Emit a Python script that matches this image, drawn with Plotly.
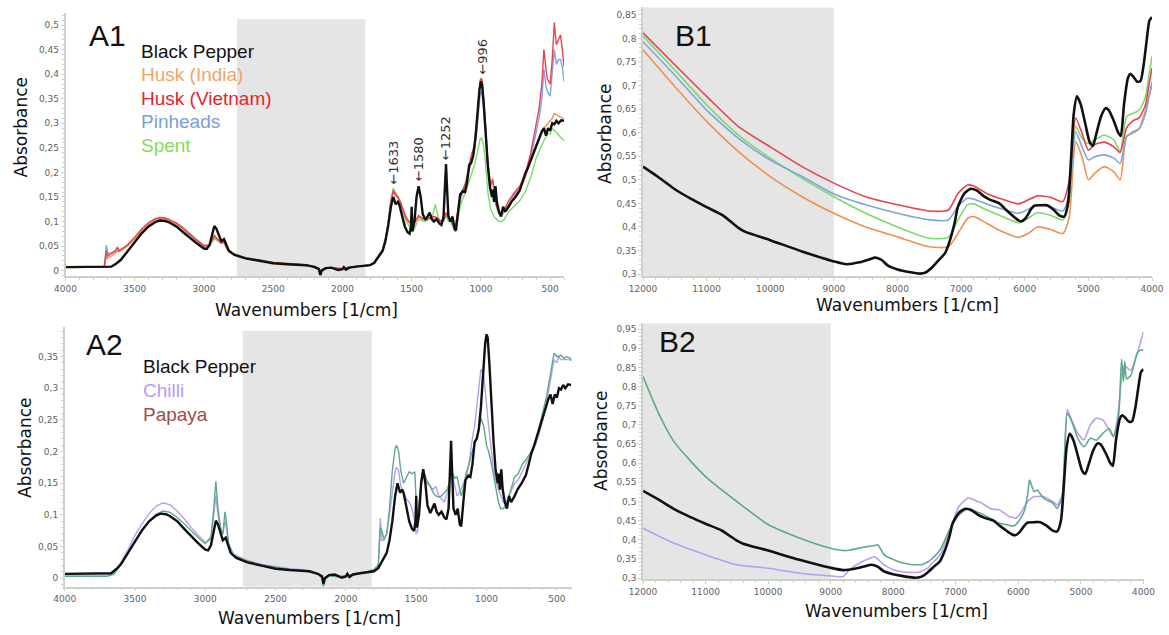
import plotly.graph_objects as go

# ---------------- DATA ----------------
# Black pepper mid-IR spectrum (shared by A1 and A2)
bp_mir_wn = [4000, 3800, 3700, 3670, 3630, 3600, 3550, 3500, 3450, 3400, 3350, 3320, 3280, 3250, 3200, 3150, 3100,
             3050, 3000, 2980, 2960, 2940, 2925, 2910, 2890, 2875, 2855, 2840, 2820, 2780, 2700, 2600, 2500, 2400,
             2300, 2260, 2200, 2170, 2160, 2150, 2120, 2080, 2050, 2030, 2000, 1990, 1975, 1950, 1900, 1850, 1800,
             1770, 1740, 1710, 1690, 1670, 1650, 1633, 1615, 1600, 1590, 1570, 1550, 1530, 1515, 1505, 1500, 1495,
             1480, 1465, 1450, 1435, 1420, 1400, 1385, 1370, 1355, 1340, 1320, 1300, 1285, 1270, 1260, 1252, 1245,
             1235, 1220, 1205, 1190, 1180, 1165, 1150, 1130, 1115, 1100, 1085, 1070, 1055, 1040, 1025, 1010, 1000,
             992, 980, 965, 950, 935, 920, 915, 905, 895, 885, 870, 855, 840, 825, 800, 780, 750, 720, 700, 680,
             660, 640, 620, 600, 580, 560, 545, 530, 515, 500, 485, 470, 455, 440, 420, 400]
bp_mir_abs = [0.007, 0.007, 0.007, 0.008, 0.015, 0.022, 0.040, 0.059, 0.076, 0.090, 0.099, 0.102, 0.101, 0.098,
              0.090, 0.078, 0.066, 0.055, 0.045, 0.044, 0.052, 0.075, 0.091, 0.085, 0.070, 0.060, 0.064, 0.052,
              0.040, 0.032, 0.025, 0.020, 0.015, 0.013, 0.011, 0.011, 0.007, 0.003, -0.009, 0.000, 0.005, 0.006,
              0.003, 0.001, 0.003, 0.007, 0.002, 0.006, 0.008, 0.009, 0.011, 0.016, 0.028, 0.040, 0.060, 0.090,
              0.130, 0.150, 0.135, 0.140, 0.135, 0.110, 0.090, 0.078, 0.075, 0.090, 0.130, 0.080, 0.100, 0.150,
              0.172, 0.150, 0.115, 0.103, 0.110, 0.118, 0.105, 0.100, 0.105, 0.096, 0.093, 0.110, 0.170, 0.217,
              0.170, 0.110, 0.100, 0.110, 0.085, 0.082, 0.120, 0.155, 0.162, 0.160, 0.180, 0.215, 0.220, 0.235,
              0.270, 0.330, 0.370, 0.385, 0.380, 0.340, 0.270, 0.215, 0.170, 0.150, 0.165, 0.140, 0.172, 0.140,
              0.120, 0.110, 0.130, 0.120, 0.130, 0.140, 0.150, 0.163, 0.180, 0.198, 0.210, 0.225, 0.240, 0.252,
              0.266, 0.283, 0.290, 0.275, 0.290, 0.285, 0.300, 0.298, 0.305, 0.300, 0.306, 0.305]

# A1 comparison samples
a1_wn = [4000, 3720, 3705, 3695, 3670, 3640, 3625, 3615, 3590, 3550, 3500, 3450, 3400, 3350, 3320, 3280, 3250, 3200,
         3150, 3100, 3050, 3000, 2960, 2925, 2895, 2875, 2855, 2830, 2780, 2700, 2600, 2500, 2400, 2300, 2200, 2170,
         2160, 2150, 2120, 2050, 2000, 1950, 1900, 1850, 1800, 1770, 1740, 1710, 1690, 1670, 1650, 1633, 1615, 1600,
         1580, 1560, 1540, 1520, 1505, 1490, 1470, 1450, 1430, 1410, 1390, 1370, 1350, 1330, 1310, 1290, 1270, 1252,
         1235, 1220, 1200, 1185, 1170, 1150, 1130, 1110, 1090, 1070, 1050, 1030, 1015, 1005, 996, 985, 970, 950, 930,
         915, 900, 885, 870, 850, 830, 800, 760, 720, 680, 640, 600, 580, 560, 545, 530, 520, 500, 485, 470, 455, 440,
         425, 410, 400]
husk_vietnam_a1 = [0.007, 0.007, 0.040, 0.030, 0.035, 0.040, 0.048, 0.040, 0.045, 0.053, 0.068, 0.085, 0.098, 0.106,
                   0.108, 0.107, 0.104, 0.097, 0.087, 0.074, 0.062, 0.051, 0.052, 0.070, 0.062, 0.057, 0.058, 0.043,
                   0.033, 0.026, 0.021, 0.016, 0.014, 0.012, 0.008, 0.004, -0.008, 0.001, 0.006, 0.004, 0.004, 0.007,
                   0.008, 0.009, 0.011, 0.016, 0.028, 0.042, 0.062, 0.095, 0.140, 0.163, 0.155, 0.150, 0.138, 0.122,
                   0.108, 0.100, 0.098, 0.096, 0.103, 0.112, 0.108, 0.105, 0.106, 0.108, 0.110, 0.110, 0.106, 0.100,
                   0.102, 0.118, 0.110, 0.105, 0.092, 0.088, 0.115, 0.150, 0.165, 0.180, 0.205, 0.235, 0.250, 0.300,
                   0.355, 0.388, 0.392, 0.370, 0.310, 0.220, 0.175, 0.185, 0.150, 0.130, 0.120, 0.118, 0.125, 0.142,
                   0.158, 0.172, 0.195, 0.240, 0.300, 0.330, 0.380, 0.450, 0.410, 0.390, 0.380, 0.430, 0.505, 0.460,
                   0.470, 0.480, 0.445, 0.415]
husk_india_a1 = [0.007, 0.007, 0.030, 0.025, 0.030, 0.036, 0.042, 0.038, 0.042, 0.050, 0.066, 0.082, 0.095, 0.104,
                 0.106, 0.105, 0.102, 0.095, 0.085, 0.073, 0.061, 0.050, 0.052, 0.072, 0.062, 0.057, 0.058, 0.043,
                 0.033, 0.026, 0.021, 0.016, 0.014, 0.012, 0.008, 0.004, -0.008, 0.001, 0.006, 0.004, 0.004, 0.007,
                 0.008, 0.009, 0.011, 0.016, 0.028, 0.042, 0.062, 0.095, 0.140, 0.163, 0.155, 0.150, 0.138, 0.120,
                 0.105, 0.098, 0.096, 0.094, 0.101, 0.110, 0.106, 0.104, 0.105, 0.107, 0.108, 0.108, 0.104, 0.100,
                 0.102, 0.115, 0.110, 0.104, 0.092, 0.088, 0.112, 0.148, 0.162, 0.175, 0.200, 0.225, 0.240, 0.290,
                 0.350, 0.385, 0.390, 0.365, 0.300, 0.210, 0.170, 0.188, 0.155, 0.130, 0.118, 0.115, 0.120, 0.135,
                 0.150, 0.165, 0.190, 0.225, 0.258, 0.270, 0.285, 0.290, 0.295, 0.300, 0.305, 0.310, 0.320, 0.318,
                 0.315, 0.312, 0.310, 0.310]
pinheads_a1 = [0.007, 0.007, 0.052, 0.035, 0.036, 0.040, 0.046, 0.041, 0.044, 0.052, 0.066, 0.082, 0.095, 0.103,
               0.105, 0.104, 0.101, 0.094, 0.083, 0.071, 0.059, 0.048, 0.052, 0.070, 0.061, 0.056, 0.058, 0.043,
               0.033, 0.026, 0.021, 0.016, 0.014, 0.012, 0.008, 0.004, -0.008, 0.001, 0.006, 0.004, 0.004, 0.007,
               0.008, 0.009, 0.011, 0.016, 0.028, 0.042, 0.062, 0.095, 0.140, 0.160, 0.152, 0.148, 0.136, 0.120,
               0.106, 0.100, 0.097, 0.095, 0.102, 0.110, 0.107, 0.104, 0.105, 0.107, 0.108, 0.108, 0.104, 0.100,
               0.101, 0.115, 0.108, 0.103, 0.090, 0.086, 0.110, 0.145, 0.160, 0.175, 0.198, 0.220, 0.238, 0.280,
               0.330, 0.360, 0.365, 0.345, 0.290, 0.205, 0.165, 0.160, 0.140, 0.125, 0.115, 0.112, 0.120, 0.135,
               0.155, 0.168, 0.190, 0.230, 0.280, 0.310, 0.350, 0.410, 0.375, 0.365, 0.355, 0.400, 0.450, 0.420,
               0.430, 0.430, 0.410, 0.385]
spent_a1 = [0.006, 0.006, 0.006, 0.006, 0.007, 0.012, 0.015, 0.018, 0.025, 0.040, 0.060, 0.077, 0.091, 0.100, 0.103,
            0.102, 0.099, 0.091, 0.080, 0.068, 0.057, 0.047, 0.050, 0.065, 0.060, 0.055, 0.056, 0.043, 0.034, 0.027,
            0.022, 0.017, 0.015, 0.013, 0.009, 0.005, -0.007, 0.002, 0.006, 0.005, 0.005, 0.007, 0.009, 0.010, 0.012,
            0.017, 0.030, 0.045, 0.065, 0.100, 0.145, 0.168, 0.158, 0.150, 0.140, 0.118, 0.100, 0.092, 0.085, 0.079,
            0.092, 0.105, 0.103, 0.100, 0.102, 0.105, 0.110, 0.135, 0.110, 0.100, 0.100, 0.112, 0.100, 0.100, 0.088,
            0.079, 0.100, 0.130, 0.148, 0.160, 0.178, 0.195, 0.212, 0.235, 0.255, 0.268, 0.270, 0.262, 0.230, 0.160,
            0.125, 0.115, 0.108, 0.104, 0.100, 0.100, 0.105, 0.120, 0.130, 0.142, 0.160, 0.190, 0.230, 0.243, 0.258,
            0.265, 0.272, 0.280, 0.278, 0.290, 0.285, 0.282, 0.276, 0.272, 0.268, 0.265]

# A2 comparison samples
a2_wn = [4000, 3700, 3650, 3600, 3550, 3500, 3450, 3400, 3350, 3300, 3250, 3200, 3150, 3100, 3050, 3000, 2960, 2940,
         2925, 2910, 2890, 2875, 2860, 2850, 2835, 2800, 2700, 2600, 2500, 2400, 2300, 2200, 2170, 2160, 2150, 2120,
         2050, 2000, 1950, 1900, 1850, 1800, 1770, 1755, 1745, 1730, 1710, 1690, 1670, 1650, 1640, 1625, 1610, 1590,
         1570, 1550, 1530, 1510, 1500, 1490, 1475, 1460, 1445, 1425, 1400, 1380, 1360, 1340, 1320, 1300, 1280, 1265,
         1252, 1240, 1225, 1210, 1195, 1180, 1165, 1145, 1125, 1105, 1085, 1065, 1040, 1020, 1000, 985, 965, 950, 930,
         915, 900, 880, 860, 840, 820, 800, 775, 745, 710, 670, 630, 600, 575, 555, 535, 520, 500, 487, 470, 450, 430,
         410, 395]
chilli_a2 = [0.005, 0.005, 0.009, 0.025, 0.045, 0.068, 0.086, 0.102, 0.114, 0.119, 0.116, 0.106, 0.094, 0.080, 0.068,
             0.056, 0.062, 0.100, 0.130, 0.100, 0.075, 0.070, 0.090, 0.080, 0.055, 0.038, 0.028, 0.022, 0.018, 0.015,
             0.013, 0.008, 0.002, -0.008, 0.000, 0.005, 0.003, 0.004, 0.006, 0.008, 0.010, 0.014, 0.022, 0.095, 0.060,
             0.060, 0.070, 0.100, 0.140, 0.170, 0.175, 0.170, 0.145, 0.135, 0.125, 0.120, 0.110, 0.090, 0.070, 0.075,
             0.120, 0.160, 0.160, 0.150, 0.145, 0.140, 0.145, 0.130, 0.125, 0.120, 0.135, 0.150, 0.180, 0.160, 0.145,
             0.130, 0.135, 0.140, 0.150, 0.160, 0.180, 0.215, 0.240, 0.280, 0.330, 0.320, 0.270, 0.240, 0.200, 0.170,
             0.150, 0.140, 0.130, 0.120, 0.120, 0.130, 0.140, 0.150, 0.155, 0.170, 0.185, 0.200, 0.225, 0.250, 0.275,
             0.300, 0.325, 0.345, 0.340, 0.350, 0.345, 0.345, 0.345, 0.345, 0.343]
papaya_a2 = [0.003, 0.003, 0.006, 0.022, 0.040, 0.058, 0.075, 0.090, 0.101, 0.106, 0.104, 0.096, 0.086, 0.075, 0.064,
             0.055, 0.065, 0.110, 0.153, 0.110, 0.078, 0.070, 0.105, 0.090, 0.055, 0.036, 0.027, 0.021, 0.017, 0.014,
             0.012, 0.007, 0.000, -0.013, -0.002, 0.004, 0.002, 0.003, 0.005, 0.008, 0.010, 0.014, 0.020, 0.080,
             0.075, 0.062, 0.070, 0.110, 0.170, 0.205, 0.210, 0.200, 0.170, 0.150, 0.160, 0.168, 0.165, 0.168, 0.120,
             0.085, 0.130, 0.165, 0.168, 0.155, 0.145, 0.135, 0.130, 0.128, 0.130, 0.135, 0.140, 0.150, 0.170, 0.165,
             0.158, 0.160, 0.145, 0.130, 0.140, 0.166, 0.180, 0.198, 0.210, 0.226, 0.253, 0.240, 0.210, 0.200, 0.180,
             0.160, 0.135, 0.120, 0.110, 0.110, 0.115, 0.130, 0.145, 0.160, 0.165, 0.180, 0.190, 0.205, 0.235, 0.260,
             0.285, 0.310, 0.335, 0.355, 0.350, 0.350, 0.352, 0.347, 0.350, 0.348, 0.345]

# Black pepper NIR spectrum (shared by B1 and B2)
bp_nir_wn = [12000, 11750, 11500, 11250, 11000, 10750, 10500, 10400, 10000, 9500, 9000, 8800, 8600, 8450, 8350, 8250,
             8150, 8000, 7800, 7650, 7550, 7450, 7350, 7250, 7180, 7100, 7050, 6950, 6850, 6750, 6650, 6550, 6400,
             6300, 6200, 6100, 6050, 5980, 5900, 5850, 5750, 5650, 5550, 5450, 5380, 5320, 5270, 5230, 5180, 5120,
             5050, 4980, 4930, 4880, 4800, 4730, 4680, 4600, 4530, 4490, 4440, 4380, 4340, 4300, 4230, 4180, 4130,
             4080, 4040, 4000]
bp_nir_abs = [0.528, 0.505, 0.480, 0.460, 0.442, 0.425, 0.398, 0.390, 0.372, 0.348, 0.327, 0.321, 0.325, 0.331,
              0.335, 0.330, 0.318, 0.310, 0.304, 0.301, 0.304, 0.315, 0.330, 0.345, 0.370, 0.410, 0.443, 0.471,
              0.481, 0.477, 0.466, 0.458, 0.450, 0.437, 0.425, 0.414, 0.412, 0.420, 0.438, 0.445, 0.446, 0.446,
              0.437, 0.424, 0.422, 0.450, 0.550, 0.640, 0.677, 0.660, 0.620, 0.580, 0.572, 0.595, 0.635, 0.652,
              0.648, 0.625, 0.600, 0.593, 0.660, 0.715, 0.725, 0.720, 0.708, 0.710, 0.745, 0.800, 0.838, 0.845]

# B1 comparison samples
b1_wn = [12000, 11500, 11000, 10500, 10000, 9500, 9000, 8500, 8000, 7500, 7200, 7050, 6900, 6800, 6600, 6400, 6100,
         5950, 5800, 5600, 5400, 5300, 5200, 5100, 5000, 4900, 4750, 4600, 4500, 4400, 4300, 4200, 4100, 4050, 4000]
husk_vietnam_b1 = [0.812, 0.744, 0.677, 0.613, 0.570, 0.528, 0.493, 0.464, 0.447, 0.434, 0.436, 0.471, 0.489, 0.487,
                   0.471, 0.461, 0.449, 0.457, 0.466, 0.463, 0.454, 0.500, 0.631, 0.599, 0.563, 0.575, 0.580, 0.570,
                   0.558, 0.610, 0.625, 0.632, 0.660, 0.700, 0.737]
husk_india_b1 = [0.776, 0.698, 0.624, 0.560, 0.507, 0.464, 0.429, 0.400, 0.379, 0.358, 0.358, 0.386, 0.418, 0.422,
                 0.408, 0.393, 0.378, 0.386, 0.400, 0.395, 0.386, 0.422, 0.581, 0.549, 0.500, 0.514, 0.528, 0.517,
                 0.500, 0.592, 0.599, 0.609, 0.648, 0.675, 0.701]
pinheads_b1 = [0.793, 0.722, 0.648, 0.588, 0.542, 0.507, 0.470, 0.447, 0.429, 0.415, 0.415, 0.443, 0.461, 0.459,
               0.449, 0.440, 0.429, 0.437, 0.447, 0.443, 0.434, 0.471, 0.602, 0.570, 0.542, 0.549, 0.553, 0.546,
               0.535, 0.592, 0.602, 0.609, 0.641, 0.675, 0.708]
spent_b1 = [0.805, 0.733, 0.659, 0.595, 0.546, 0.503, 0.464, 0.429, 0.400, 0.376, 0.378, 0.415, 0.447, 0.449, 0.436,
            0.425, 0.409, 0.418, 0.430, 0.425, 0.415, 0.457, 0.613, 0.588, 0.577, 0.585, 0.595, 0.585, 0.560, 0.634,
            0.641, 0.648, 0.677, 0.720, 0.762]

# B2 comparison samples
b2_wn = [12000, 11750, 11500, 11000, 10500, 10000, 9500, 9000, 8800, 8700, 8500, 8400, 8300, 8250, 8150, 8100, 8000,
         7900, 7800, 7700, 7600, 7550, 7450, 7400, 7250, 7100, 6950, 6800, 6650, 6600, 6450, 6400, 6300, 6150, 6100,
         6050, 6000, 5950, 5900, 5850, 5820, 5750, 5700, 5600, 5450, 5380, 5300, 5220, 5180, 5150, 5100, 5050, 4950,
         4850, 4750, 4650, 4550, 4480, 4400, 4350, 4320, 4300, 4270, 4200, 4100, 4050, 4000]
chilli_b2 = [0.430, 0.410, 0.391, 0.361, 0.335, 0.326, 0.313, 0.306, 0.304, 0.322, 0.343, 0.350, 0.356, 0.350, 0.335,
             0.330, 0.322, 0.318, 0.315, 0.315, 0.315, 0.318, 0.326, 0.335, 0.361, 0.422, 0.487, 0.509, 0.500, 0.497,
             0.482, 0.480, 0.478, 0.461, 0.459, 0.456, 0.462, 0.474, 0.488, 0.500, 0.505, 0.513, 0.513, 0.513, 0.500,
             0.491, 0.517, 0.739, 0.725, 0.713, 0.695, 0.678, 0.661, 0.700, 0.717, 0.713, 0.687, 0.669, 0.739, 0.826,
             0.845, 0.856, 0.850, 0.843, 0.887, 0.915, 0.943]
papaya_b2 = [0.826, 0.730, 0.655, 0.565, 0.500, 0.440, 0.405, 0.378, 0.372, 0.373, 0.380, 0.383, 0.385, 0.387, 0.362,
             0.356, 0.349, 0.342, 0.338, 0.335, 0.335, 0.335, 0.342, 0.348, 0.374, 0.426, 0.465, 0.482, 0.472, 0.469,
             0.456, 0.452, 0.443, 0.438, 0.436, 0.438, 0.448, 0.460, 0.478, 0.520, 0.556, 0.526, 0.530, 0.509, 0.496,
             0.482, 0.513, 0.730, 0.721, 0.710, 0.687, 0.665, 0.643, 0.665, 0.660, 0.678, 0.690, 0.670, 0.720, 0.871,
             0.813, 0.865, 0.820, 0.830, 0.887, 0.895, 0.895]

# Ticks
a_xticks = [4000, 3500, 3000, 2500, 2000, 1500, 1000, 500]
a_xticklabels = ["4000", "3500", "3000", "2500", "2000", "1500", "1000", "500"]
b_xticks = [12000, 11000, 10000, 9000, 8000, 7000, 6000, 5000, 4000]
b_xticklabels = ["12000", "11000", "10000", "9000", "8000", "7000", "6000", "5000", "4000"]
a1_yticks = [0, 0.05, 0.1, 0.15, 0.2, 0.25, 0.3, 0.35, 0.4, 0.45, 0.5]
a1_yticklabels = ["0", "0,05", "0,1", "0,15", "0,2", "0,25", "0,3", "0,35", "0,4", "0,45", "0,5"]
a2_yticks = [0, 0.05, 0.1, 0.15, 0.2, 0.25, 0.3, 0.35]
a2_yticklabels = ["0", "0,05", "0,1", "0,15", "0,2", "0,25", "0,3", "0,35"]
b1_yticks = [0.3, 0.35, 0.4, 0.45, 0.5, 0.55, 0.6, 0.65, 0.7, 0.75, 0.8, 0.85]
b1_yticklabels = ["0,3", "0,35", "0,4", "0,45", "0,5", "0,55", "0,6", "0,65", "0,7", "0,75", "0,8", "0,85"]
b2_yticks = [0.3, 0.35, 0.4, 0.45, 0.5, 0.55, 0.6, 0.65, 0.7, 0.75, 0.8, 0.85, 0.9, 0.95]
b2_yticklabels = ["0,3", "0,35", "0,4", "0,45", "0,5", "0,55", "0,6", "0,65", "0,7", "0,75", "0,8", "0,85",
                  "0,9", "0,95"]

# Marked peaks in A1 (position, label)
a1_peak_pos = [1633, 1454, 1254, 986]
a1_peak_lbl = ["1633", "1580", "1252", "996"]
a1_peak_y = [0.2205, 0.227, 0.269, 0.4355]

# Excluded (grey) regions
a1_grey = [2762, 1835]
a2_grey = [2734, 1816]
b_grey = [12000, 9000]

# ---------------- STYLE ----------------
C_BLACK = "#111111"
C_INDIA = "#F0904E"
C_VIET = "#E8434C"
C_PIN = "#7FA5DE"
C_SPENT = "#7DDB68"
C_CHILLI = "#B89EF2"
C_PAPAYA_LINE = "#5FA98B"
C_PAPAYA_TXT = "#A34A4A"

fig = go.Figure()


def add(x, y, color, width, xa, ya, shape="linear"):
    fig.add_trace(go.Scatter(x=x, y=y, mode="lines", xaxis=xa, yaxis=ya, showlegend=False,
                             line=dict(color=color, width=width, shape=shape, smoothing=0.6),
                             hoverinfo="skip"))


# A1
add(a1_wn, spent_a1, C_SPENT, 1.4, "x", "y")
add(a1_wn, pinheads_a1, C_PIN, 1.4, "x", "y")
add(a1_wn, husk_india_a1, C_INDIA, 1.4, "x", "y")
add(a1_wn, husk_vietnam_a1, C_VIET, 1.4, "x", "y")
add(bp_mir_wn, bp_mir_abs, C_BLACK, 2.4, "x", "y")
# B1
add(b1_wn, husk_india_b1, C_INDIA, 1.6, "x2", "y2", "spline")
add(b1_wn, spent_b1, C_SPENT, 1.6, "x2", "y2", "spline")
add(b1_wn, pinheads_b1, C_PIN, 1.6, "x2", "y2", "spline")
add(b1_wn, husk_vietnam_b1, C_VIET, 1.6, "x2", "y2", "spline")
add(bp_nir_wn, bp_nir_abs, C_BLACK, 2.6, "x2", "y2", "spline")
# A2
add(a2_wn, chilli_a2, C_CHILLI, 1.4, "x3", "y3")
add(a2_wn, papaya_a2, C_PAPAYA_LINE, 1.4, "x3", "y3")
add(bp_mir_wn, bp_mir_abs, C_BLACK, 2.4, "x3", "y3")
# B2
add(b2_wn, chilli_b2, C_CHILLI, 1.6, "x4", "y4", "spline")
add(b2_wn, papaya_b2, C_PAPAYA_LINE, 1.6, "x4", "y4", "spline")
add(bp_nir_wn, bp_nir_abs, C_BLACK, 2.6, "x4", "y4", "spline")

W, H = 1169, 635
AX_COL = "#CDD2C6"
TICKFONT = dict(family="DejaVu Sans", size=9, color="#606060")


def xaxis(dom_px, rng, vals, txt, anchor, minor_dtick):
    return dict(domain=[dom_px[0] / W, dom_px[1] / W], range=rng, anchor=anchor, automargin=False,
                tickmode="array", tickvals=vals, ticktext=txt, tickfont=TICKFONT,
                showline=True, linecolor=AX_COL, linewidth=1.5, showgrid=False, zeroline=False,
                ticks="outside", ticklen=3, tickcolor=AX_COL,
                minor=dict(dtick=minor_dtick, ticks="outside", ticklen=2, tickcolor=AX_COL))


def yaxis(dom_px, rng, vals, txt, anchor, minor_dtick):
    return dict(domain=[1 - dom_px[1] / H, 1 - dom_px[0] / H], range=rng, anchor=anchor, automargin=False,
                tickmode="array", tickvals=vals, ticktext=txt, tickfont=TICKFONT,
                showline=True, linecolor=AX_COL, linewidth=1.5, showgrid=False, zeroline=False,
                ticks="outside", ticklen=3, tickcolor=AX_COL,
                minor=dict(dtick=minor_dtick, ticks="outside", ticklen=2, tickcolor=AX_COL))


fig.update_layout(
    width=W, height=H, margin=dict(l=0, r=0, t=0, b=0, autoexpand=False),
    paper_bgcolor="white", plot_bgcolor="white", showlegend=False,
    xaxis=xaxis((65.5, 564), [4000, 400], a_xticks, a_xticklabels, "y", 100),
    yaxis=yaxis((13.3, 276), [-0.011, 0.524], a1_yticks, a1_yticklabels, "x", 0.01),
    xaxis2=xaxis((643, 1152), [12000, 4000], b_xticks, b_xticklabels, "y2", 200),
    yaxis2=yaxis((7.3, 276), [0.296, 0.866], b1_yticks, b1_yticklabels, "x2", 0.01),
    xaxis3=xaxis((64.7, 571.6), [4000, 395], a_xticks, a_xticklabels, "y3", 100),
    yaxis3=yaxis((326.7, 586.7), [-0.0133, 0.397], a2_yticks, a2_yticklabels, "x3", 0.01),
    xaxis4=xaxis((643, 1143.5), [12000, 4000], b_xticks, b_xticklabels, "y4", 200),
    yaxis4=yaxis((323.3, 579.3), [0.297, 0.965], b2_yticks, b2_yticklabels, "x4", 0.01),
)

GREY = "#E5E5E5"
fig.add_shape(type="rect", xref="x", yref="y", x0=a1_grey[0], x1=a1_grey[1], y0=-0.011, y1=0.512,
              fillcolor=GREY, line_width=0, layer="below")
fig.add_shape(type="rect", xref="x2", yref="y2", x0=b_grey[0], x1=b_grey[1], y0=0.296, y1=0.866,
              fillcolor=GREY, line_width=0, layer="below")
fig.add_shape(type="rect", xref="x3", yref="y3", x0=a2_grey[0], x1=a2_grey[1], y0=-0.0133, y1=0.3907,
              fillcolor=GREY, line_width=0, layer="below")
fig.add_shape(type="rect", xref="x4", yref="y4", x0=b_grey[0], x1=b_grey[1], y0=0.297, y1=0.965,
              fillcolor=GREY, line_width=0, layer="below")

ann = []


def txt(px, py, text, size, color="#111111", family="Liberation Sans", xanchor="center", angle=0):
    ann.append(dict(x=px / W, y=1 - py / H, xref="paper", yref="paper", text=text, showarrow=False,
                    xanchor=xanchor, yanchor="middle", textangle=angle,
                    font=dict(size=size, color=color, family=family)))


# panel labels
txt(107, 36, "A1", 30)
txt(693, 35, "B1", 30)
txt(104, 344, "A2", 30)
txt(677, 341, "B2", 30)

# legends
leg_a1 = [("Black Pepper", C_BLACK), ("Husk (India)", "#F2A466"), ("Husk (Vietnam)", "#E8222E"),
          ("Pinheads", "#7A9EDA"), ("Spent", "#86D95A")]
for i, (t, c) in enumerate(leg_a1):
    txt(139, 51 + i * 23.6, t, 19, c, xanchor="left")
leg_a2 = [("Black Pepper", C_BLACK), ("Chilli", "#B99AF0"), ("Papaya", C_PAPAYA_TXT)]
for i, (t, c) in enumerate(leg_a2):
    txt(141, 367 + i * 23.5, t, 19, c, xanchor="left")

# axis titles
TF = "DejaVu Sans"
for (px, py) in [(306, 310), (907, 305), (310, 618), (896, 611)]:
    txt(px, py, "Wavenumbers [1/cm]", 17, "#111111", TF)
for (px, py) in [(20.5, 128), (605, 134), (25, 448), (601, 441)]:
    txt(px, py, "Absorbance", 17, "#111111", TF, angle=-90)

# peak markers
for pos, lbl, yy in zip(a1_peak_pos, a1_peak_lbl, a1_peak_y):
    ann.append(dict(x=pos, y=yy, xref="x", yref="y", text="\u2190" + lbl, showarrow=False,
                    textangle=-90, xanchor="center", yanchor="middle",
                    font=dict(size=13, color="#333333", family="DejaVu Sans")))

fig.update_layout(annotations=ann)
fig.write_html("out.html", config={"displayModeBar": False},
               post_script="document.body.style.margin='0';document.body.style.overflow='hidden';")
